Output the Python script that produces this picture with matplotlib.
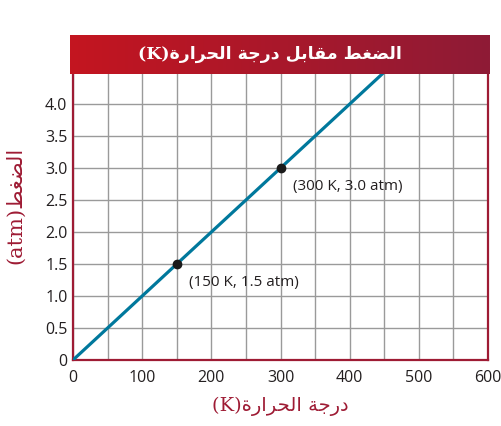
import numpy as np
import matplotlib.pyplot as plt
from matplotlib.ticker import MultipleLocator, FixedLocator

# data
temps_k = [0, 450]
pressure_atm = [0.0, 4.5]
point_t = [150, 300]
point_p = [1.5, 3.0]
point_labels = ["(150 K, 1.5 atm)", "(300 K, 3.0 atm)"]
x_ticks = [0, 100, 200, 300, 400, 500, 600]
y_ticks = [0, 0.5, 1.0, 1.5, 2.0, 2.5, 3.0, 3.5, 4.0]
y_tick_labels = ["0", "0.5", "1.0", "1.5", "2.0", "2.5", "3.0", "3.5", "4.0"]

title_ar = "الضغط مقابل درجة الحرارة"
xlabel_ar = "درجة الحرارة"
ylabel_ar = "الضغط"

# small arabic shaper (matplotlib has no text shaping)
# letter: (isolated, final, initial, medial)
FORMS = {
  "ا": ("\uFE8D", "\uFE8E", None, None),
  "ب": ("\uFE8F", "\uFE90", "\uFE91", "\uFE92"),
  "ة": ("\uFE93", "\uFE94", None, None),
  "ج": ("\uFE9D", "\uFE9E", "\uFE9F", "\uFEA0"),
  "ح": ("\uFEA1", "\uFEA2", "\uFEA3", "\uFEA4"),
  "د": ("\uFEA9", "\uFEAA", None, None),
  "ر": ("\uFEAD", "\uFEAE", None, None),
  "ض": ("\uFEBD", "\uFEBE", "\uFEBF", "\uFEC0"),
  "ط": ("\uFEC1", "\uFEC2", "\uFEC3", "\uFEC4"),
  "غ": ("\uFECD", "\uFECE", "\uFECF", "\uFED0"),
  "ق": ("\uFED5", "\uFED6", "\uFED7", "\uFED8"),
  "ل": ("\uFEDD", "\uFEDE", "\uFEDF", "\uFEE0"),
  "م": ("\uFEE1", "\uFEE2", "\uFEE3", "\uFEE4"),
}


def shape_word(word):
  out = []
  for i, ch in enumerate(word):
    iso, fin, ini, med = FORMS[ch]
    prev_joins = i > 0 and FORMS[word[i - 1]][2] is not None
    next_exists = i < len(word) - 1
    can_join_next = ini is not None and next_exists
    if prev_joins and can_join_next:
      out.append(med)
    elif prev_joins:
      out.append(fin)
    elif can_join_next:
      out.append(ini)
    else:
      out.append(iso)
  return "".join(reversed(out))


def rtl(text):
  return " ".join(shape_word(w) for w in reversed(text.split()))


red = "#9e1b34"
grid_col = "#9a9a9a"
text_col = "#231f20"
line_col = "#00789c"
ar_family = ['DejaVu Serif', 'DejaVu Sans']

plt.rcParams['font.family'] = ['Open Sans', 'DejaVu Sans']

fig = plt.figure(figsize=(5.01, 4.26), dpi=100)
ax = fig.add_axes([73 / 501, 66 / 426, 415 / 501, 286 / 426])

ax.plot(temps_k, pressure_atm, color=line_col, lw=2.3, solid_capstyle='butt', zorder=3)
ax.plot(point_t, point_p, 'o', color='#1a1a1a', ms=6, zorder=4)
for t, p, lab in zip(point_t, point_p, point_labels):
  ax.annotate(lab, (t, p), xytext=(9, -13), textcoords='offset points',
              fontsize=11, color=text_col, ha='left', va='center')

ax.set_xlim(0, 600)
ax.set_ylim(0, 4.47)
ax.xaxis.set_major_locator(FixedLocator(x_ticks))
ax.xaxis.set_minor_locator(MultipleLocator(50))
ax.set_yticks(y_ticks)
ax.set_yticklabels(y_tick_labels)
ax.grid(True, which='both', color=grid_col, lw=1)
ax.set_axisbelow(True)
ax.tick_params(which='both', length=0, labelsize=11.5, labelcolor=text_col)
ax.tick_params(axis='x', pad=7)
ax.tick_params(axis='y', pad=4)

for side in ['left', 'bottom', 'right']:
  ax.spines[side].set_color(red)
  ax.spines[side].set_linewidth(1.6)
ax.spines['top'].set_visible(False)

ax.set_xlabel("(K)" + rtl(xlabel_ar), family=ar_family,
              color=red, fontsize=14, labelpad=8)
ax.set_ylabel("(atm)" + rtl(ylabel_ar), family=ar_family,
              color=red, fontsize=15)
ax.yaxis.set_label_coords(-0.115, 0.54)

# title banner with gradient
bax = fig.add_axes([70 / 501, (426 - 74) / 426, 420 / 501, 39 / 426])
grad = np.linspace(0, 1, 256)
c0 = np.array([0xc4, 0x15, 0x20]) / 255
c1 = np.array([0x8e, 0x1b, 0x36]) / 255
img = np.array([[c0 + (c1 - c0) * g for g in grad]])
bax.imshow(img, aspect='auto', extent=[0, 1, 0, 1])
bax.set_xlim(0, 1)
bax.set_ylim(0, 1)
bax.axis('off')
bax.text(0.477, 0.5, "(K)" + rtl(title_ar), color='white', fontsize=12.5, fontweight='bold',
         family=ar_family, ha='center', va='center')

fig.savefig("out.png", dpi=100)
